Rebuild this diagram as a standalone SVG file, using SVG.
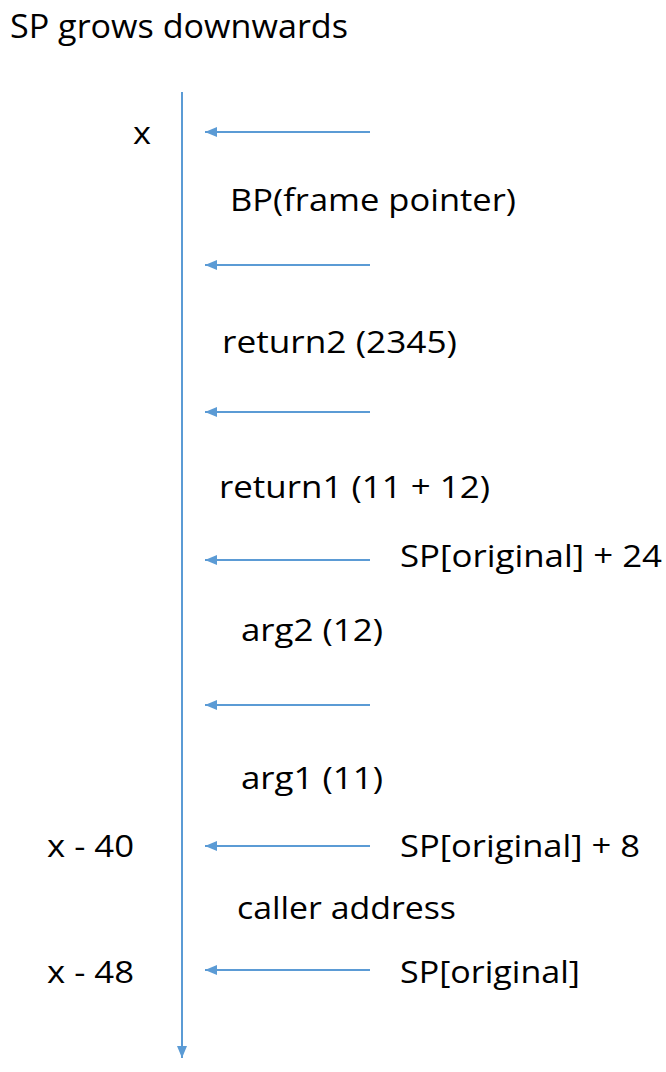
<svg xmlns="http://www.w3.org/2000/svg" width="666" height="1072" viewBox="0 0 666 1072">
<style>
text{font-family:"Open Sans","Liberation Sans",sans-serif;font-size:31px;fill:#000}
.t{font-size:33px}
.ln{stroke:#5B9BD5;stroke-width:2;fill:none}
</style>
<defs>
<marker id="ah" markerWidth="12" markerHeight="10" refX="12" refY="5" orient="auto" markerUnits="userSpaceOnUse">
<path d="M0,0 L12,5 L0,10 Z" fill="#5B9BD5"/>
</marker>
</defs>
<rect width="666" height="1072" fill="#fff"/>
<g id="title"><text class="t" x="10" y="38" textLength="338" lengthAdjust="spacingAndGlyphs">SP grows downwards</text></g>
<g id="connectors">
<line class="ln" x1="182" y1="92" x2="182" y2="1058" marker-end="url(#ah)"/>
<line class="ln" x1="370" y1="132" x2="205" y2="132" marker-end="url(#ah)"/>
<line class="ln" x1="370" y1="265" x2="205" y2="265" marker-end="url(#ah)"/>
<line class="ln" x1="370" y1="412" x2="205" y2="412" marker-end="url(#ah)"/>
<line class="ln" x1="370" y1="560" x2="205" y2="560" marker-end="url(#ah)"/>
<line class="ln" x1="370" y1="705" x2="205" y2="705" marker-end="url(#ah)"/>
<line class="ln" x1="370" y1="846" x2="205" y2="846" marker-end="url(#ah)"/>
<line class="ln" x1="370" y1="970" x2="205" y2="970" marker-end="url(#ah)"/>
</g>
<g id="x"><text x="133" y="144" textLength="18" lengthAdjust="spacingAndGlyphs">x</text></g>
<g id="bp"><text x="230" y="211" textLength="286" lengthAdjust="spacingAndGlyphs">BP(frame pointer)</text></g>
<g id="return2"><text x="222" y="353" textLength="235" lengthAdjust="spacingAndGlyphs">return2 (2345)</text></g>
<g id="return1"><text x="219" y="498" textLength="271" lengthAdjust="spacingAndGlyphs">return1 (11 + 12)</text></g>
<g id="sp24"><text x="400" y="567" textLength="262" lengthAdjust="spacingAndGlyphs">SP[original] + 24</text></g>
<g id="arg2"><text x="241" y="641" textLength="142" lengthAdjust="spacingAndGlyphs">arg2 (12)</text></g>
<g id="arg1"><text x="241" y="789" textLength="142" lengthAdjust="spacingAndGlyphs">arg1 (11)</text></g>
<g id="x40"><text x="47" y="857" textLength="87" lengthAdjust="spacingAndGlyphs">x - 40</text></g>
<g id="sp8"><text x="400" y="857" textLength="240" lengthAdjust="spacingAndGlyphs">SP[original] + 8</text></g>
<g id="caller"><text x="237" y="919" textLength="219" lengthAdjust="spacingAndGlyphs">caller address</text></g>
<g id="x48"><text x="47" y="983" textLength="87" lengthAdjust="spacingAndGlyphs">x - 48</text></g>
<g id="sp"><text x="400" y="983" textLength="180" lengthAdjust="spacingAndGlyphs">SP[original]</text></g>
</svg>
